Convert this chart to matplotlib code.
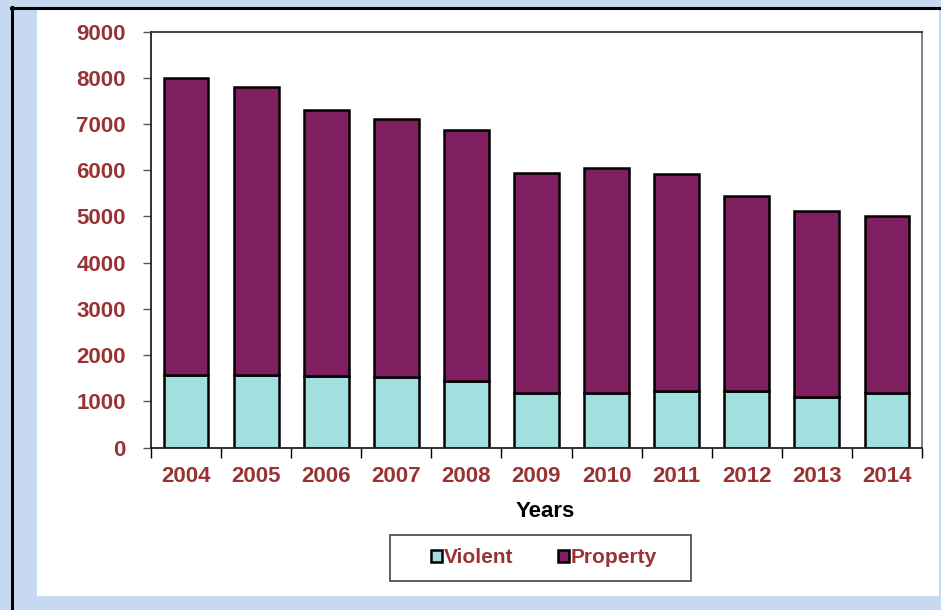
import numpy as np
import matplotlib
matplotlib.use("Agg")
import matplotlib.pyplot as plt
from matplotlib.patches import Rectangle
from matplotlib.lines import Line2D

years = ["2004", "2005", "2006", "2007", "2008", "2009", "2010", "2011", "2012", "2013", "2014"]
violent = [1560, 1570, 1540, 1530, 1430, 1180, 1180, 1230, 1220, 1100, 1190]
total = [8000, 7800, 7300, 7110, 6880, 5940, 6050, 5930, 5440, 5110, 5000]
property_ = [t - v for t, v in zip(total, violent)]

red = "#993333"
plt.rcParams['font.family'] = ['Liberation Sans', 'DejaVu Sans']
fs = 16

W, H = 941, 610
fig = plt.figure(figsize=(W / 100, H / 100), dpi=100)
fig.patch.set_facecolor("#C6D9F0")

# white chart panel and the black frame lines
fig.add_artist(Rectangle((37 / W, 1 - 596 / H), (939 - 37) / W, (596 - 8) / H,
                         transform=fig.transFigure, facecolor="white", edgecolor="none", zorder=0))
fig.add_artist(Line2D([12 / W, 12 / W], [0, 1 - 7 / H], transform=fig.transFigure, color="black", lw=2.2))
fig.add_artist(Line2D([11 / W, 1], [1 - 7.5 / H, 1 - 7.5 / H], transform=fig.transFigure, color="black", lw=2.2))

ax = fig.add_axes([151 / W, 1 - 447.5 / H, (922 - 151) / W, (447.5 - 31.7) / H])
x = np.arange(len(years))
ax.bar(x, violent, width=0.64, color="#A2E0E0", edgecolor="black", linewidth=1.8, label="Violent")
ax.bar(x, property_, width=0.64, bottom=violent, color="#7F1F5F", edgecolor="black", linewidth=1.8, label="Property")

ax.set_xlim(-0.5, len(years) - 0.5)
ax.set_ylim(0, 9000)
ax.set_yticks(np.arange(0, 9001, 1000))
ax.set_xticks(x)
ax.set_xticklabels(years)
ax.set_xticks(np.arange(-0.5, len(years)), minor=True)
ax.tick_params(axis="x", which="major", length=0, pad=13)
ax.tick_params(axis="x", which="minor", length=7, width=1, color="black", direction="out")
ax.tick_params(axis="y", length=6, width=1, color="#555555", direction="out", pad=12)
for lab in ax.get_xticklabels() + ax.get_yticklabels():
    lab.set_color(red)
    lab.set_fontweight("bold")
    lab.set_fontsize(fs)

ax.spines["left"].set_color("#222222")
ax.spines["bottom"].set_color("#222222")
ax.spines["top"].set_color("#333333")
ax.spines["right"].set_color("#777777")
for s in ax.spines.values():
    s.set_linewidth(1.3)

ax.set_xlabel("Years", fontsize=fs, fontweight="bold", color="black")
ax.xaxis.set_label_coords((545.7 - 151) / (922 - 151), -(511.7 - 447.5) / (447.5 - 31.7))
ax.xaxis.label.set_va("center")

# legend box
fig.add_artist(Rectangle((390 / W, 1 - 580.7 / H), (691 - 390) / W, (580.7 - 534.7) / H,
                         transform=fig.transFigure, facecolor="white", edgecolor="#444444", lw=1.2))
leg = fig.legend(loc="center", bbox_to_anchor=(544 / W, 1 - 557.7 / H), ncol=2, frameon=False,
                 handlelength=0.53, handleheight=0.53, handletextpad=0.1, columnspacing=2.1,
                 borderpad=0, prop={"weight": "bold", "size": 15})
for t in leg.get_texts():
    t.set_color(red)
for h in leg.legend_handles:
    h.set_linewidth(1.8)

fig.savefig("out.png", dpi=100, facecolor=fig.get_facecolor())
